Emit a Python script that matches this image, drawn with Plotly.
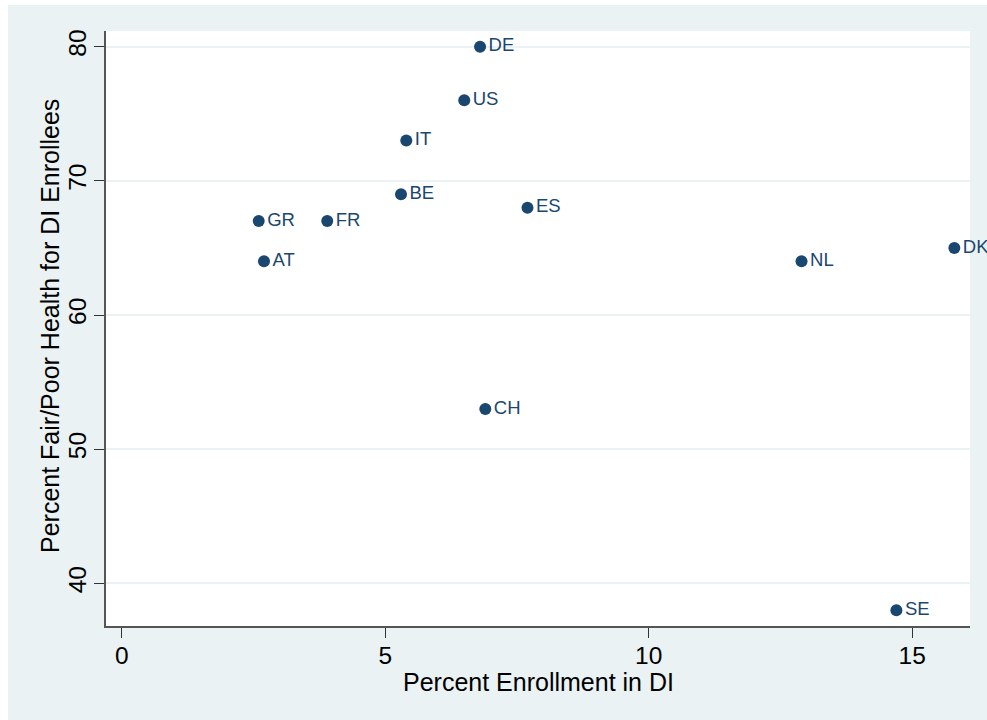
import plotly.graph_objects as go

# Disability insurance enrollment vs. self-reported health, by country
countries = ["DE", "US", "IT", "BE", "ES", "GR", "FR", "AT", "NL", "DK", "CH", "SE"]
enrollment_pct = [6.8, 6.5, 5.4, 5.3, 7.7, 2.6, 3.9, 2.7, 12.9, 15.8, 6.9, 14.7]
fair_poor_pct = [80, 76, 73, 69, 68, 67, 67, 64, 64, 65, 53, 38]

x_ticks = [0, 5, 10, 15]
y_ticks = [40, 50, 60, 70, 80]

x_title = "Percent Enrollment in DI"
y_title = "Percent Fair/Poor Health for DI Enrollees"

navy = "#1a476f"
outer_bg = "#eaf2f3"
font_family = "Arial, Liberation Sans, Helvetica, sans-serif"

fig = go.Figure(
    go.Scatter(
        x=enrollment_pct,
        y=fair_poor_pct,
        mode="markers+text",
        text=countries,
        textposition="middle right",
        textfont=dict(family=font_family, size=18.5, color=navy),
        marker=dict(size=12, color=navy, line=dict(width=0)),
        cliponaxis=False,
        hoverinfo="x+y+text",
    )
)

W, H = 987, 720
ml, mr, mt, mb = 106, 17, 31, 94
pw, ph = W - ml - mr, H - mt - mb


def px_x(p):
    return (p - ml) / pw


def px_y(p):
    return 1 - (p - mt) / ph


fig.update_layout(
    width=W,
    height=H,
    margin=dict(l=ml, r=mr, t=mt, b=mb, pad=0),
    paper_bgcolor=outer_bg,
    plot_bgcolor="white",
    showlegend=False,
    font=dict(family=font_family, color="black"),
    shapes=[
        # thin white border along the left and top of the canvas
        dict(type="rect", xref="paper", yref="paper",
             x0=px_x(0), x1=px_x(8), y0=px_y(H), y1=px_y(0),
             fillcolor="white", line=dict(width=0), layer="below"),
        dict(type="rect", xref="paper", yref="paper",
             x0=px_x(0), x1=px_x(W), y0=px_y(5), y1=px_y(0),
             fillcolor="white", line=dict(width=0), layer="below"),
    ],
    annotations=[
        dict(text=x_title, xref="paper", yref="paper",
             x=px_x(538), y=px_y(682), xanchor="center", yanchor="middle",
             showarrow=False, font=dict(size=25, color="black")),
        dict(text=y_title, xref="paper", yref="paper",
             x=px_x(50), y=px_y(326), xanchor="center", yanchor="middle",
             textangle=-90, showarrow=False, font=dict(size=25, color="black")),
    ],
)

fig.update_xaxes(
    range=[-0.298, 16.097],
    tickvals=x_ticks,
    ticktext=[str(v) for v in x_ticks],
    ticks="outside",
    ticklen=10,
    tickwidth=1,
    tickcolor="#333333",
    tickfont=dict(size=24.5, color="black"),
    ticklabelstandoff=-3,
    showgrid=False,
    zeroline=False,
    showline=True,
    linecolor="#555555",
    linewidth=1.7,
)

fig.update_yaxes(
    range=[36.82, 81.17],
    tickvals=y_ticks,
    ticktext=[str(v) for v in y_ticks],
    tickangle=-90,
    ticks="outside",
    ticklen=10,
    tickwidth=1,
    tickcolor="#333333",
    tickfont=dict(size=24.5, color="black"),
    ticklabelstandoff=-2,
    showgrid=True,
    gridcolor=outer_bg,
    gridwidth=2,
    zeroline=False,
    showline=True,
    linecolor="#555555",
    linewidth=1.7,
)

fig.write_html("out.html")
